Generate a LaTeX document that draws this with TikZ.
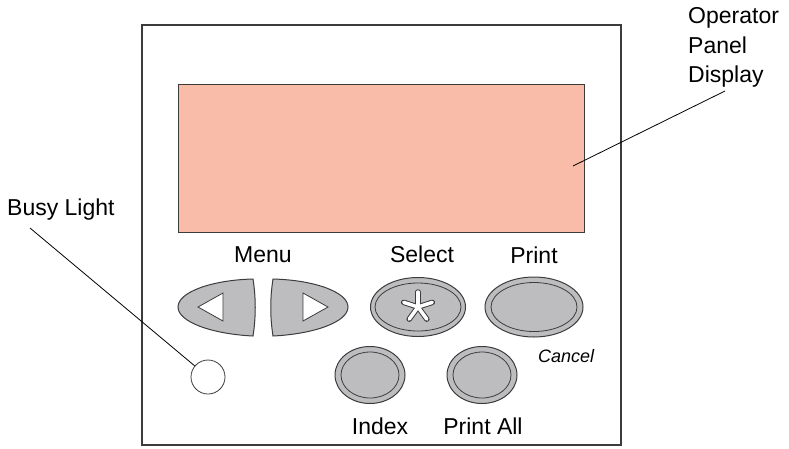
\documentclass[tikz,border=0pt]{standalone}
\usepackage{fontspec}
\setmainfont{Liberation Sans}
\usetikzlibrary{shapes.geometric}
\definecolor{lcd}{HTML}{F9BCA8}
\definecolor{keygray}{HTML}{BDBDC0}
\definecolor{edge}{HTML}{3C3C3C}
\tikzset{
  lbl/.style={font=\fontsize{23}{29.5}\selectfont, inner sep=0pt},
  keyout/.style={ellipse, draw=edge, fill=keygray, line width=1pt, inner sep=0pt},
  keyin/.style={ellipse, draw=edge, line width=0.8pt, inner sep=0pt},
}

\begin{document}
\begin{tikzpicture}[x=1pt,y=-1pt]
\useasboundingbox (0,0) rectangle (789,448);

% Panel
\draw[edge, line width=1.3pt] (142,25) rectangle (621,445);

% Display
\node[draw=edge, fill=lcd, line width=1pt, minimum width=406, minimum height=148, inner sep=0pt, anchor=north west] (lcd) at (178,84) {};
\node[lbl, align=left, anchor=north west] (lcdlbl) at (688,7.5) {Operator\\Panel\\Display};
\coordinate (lcdtip) at (573,166);
\coordinate (lcdtail) at (725,91);
\draw[line width=0.8pt] (lcdtip) -- (lcdtail);

% Menu keys
\draw[edge, fill=keygray, line width=1pt] (253,279) .. controls (212,280) and (178,292) .. (178,307) .. controls (178,322) and (212,334) .. (253,336) .. controls (256,317) and (256,298) .. (253,279) -- cycle;
\draw[edge, fill=keygray, line width=1pt] (273,279) .. controls (314,280) and (348,292) .. (348,307) .. controls (348,322) and (314,334) .. (273,336) .. controls (270,317) and (270,298) .. (273,279) -- cycle;
\draw[edge, fill=white, line width=0.8pt] (198,307) -- (223,293) -- (223,321) -- cycle;
\draw[edge, fill=white, line width=0.8pt] (328,307) -- (303,293) -- (303,321) -- cycle;
\node[lbl, anchor=base] (menulbl) at (263,262) {Menu};

% Select key
\node[keyout, minimum width=95, minimum height=59] (select) at (418,307) {};
\node[keyin, minimum width=86, minimum height=48] (selectin) at (select) {};
\foreach \a in {270,342,54,126,198}
  \draw[edge, line width=5.5pt, line cap=round] (select.center) -- ++(\a:15);
\foreach \a in {270,342,54,126,198}
  \draw[white, line width=3.5pt, line cap=round] (select.center) -- ++(\a:15);
\node[lbl, anchor=base] (selectlbl) at (422,262) {Select};

% Print key
\node[keyout, minimum width=98, minimum height=60] (print) at (534,307) {};
\node[keyin, minimum width=86, minimum height=49] (printin) at (print) {};
\node[lbl, anchor=base] (printlbl) at (534,263) {Print};
\node[font=\fontsize{18}{20}\selectfont\itshape, inner sep=0pt, anchor=base west] (cancellbl) at (538,362) {Cancel};

% Index and Print All keys
\node[keyout, minimum width=70, minimum height=57] (index) at (370,375) {};
\node[keyin, minimum width=58, minimum height=46] (indexin) at (index) {};
\node[lbl, anchor=base] (indexlbl) at (380,434) {Index};
\node[keyout, minimum width=70, minimum height=57] (printall) at (482,375) {};
\node[keyin, minimum width=58, minimum height=46] (printallin) at (printall) {};
\node[lbl, anchor=base] (printalllbl) at (483,434) {Print All};

% Busy light
\node[circle, draw=edge, fill=white, line width=0.8pt, minimum size=34, inner sep=0pt] (busy) at (208,377) {};
\node[lbl, anchor=base west] (busylbl) at (7,215) {Busy Light};
\coordinate (busytail) at (30,228);
\draw[line width=0.8pt] (busytail) -- (busy);
\end{tikzpicture}
\end{document}
